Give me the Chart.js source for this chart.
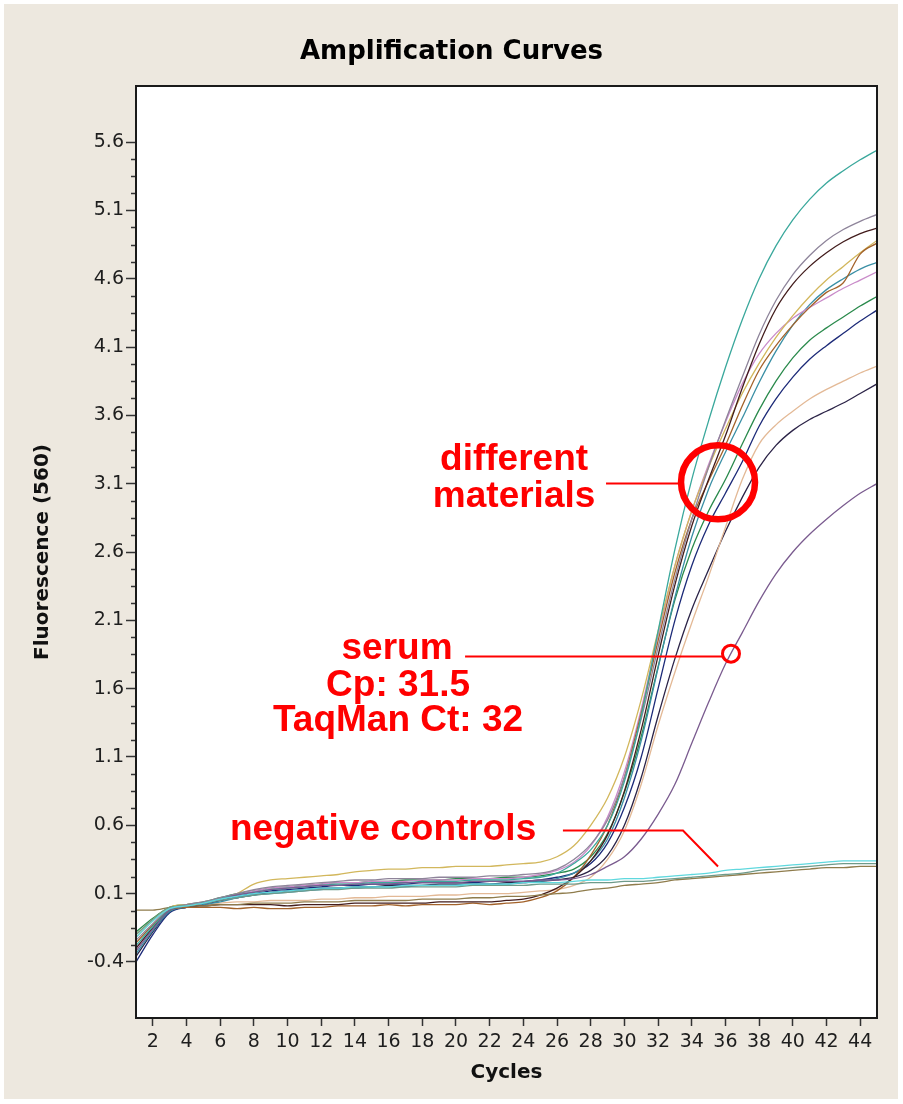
<!DOCTYPE html>
<html>
<head>
<meta charset="utf-8">
<title>Amplification Curves</title>
<style>
  html, body { margin: 0; padding: 0; background: #ffffff; }
  canvas { display: block; }
</style>
<script src="https://cdn.jsdelivr.net/npm/chart.js@4.4.1/dist/chart.umd.min.js"></script>
</head>
<body>
<canvas id="amp" width="903" height="1104"></canvas>
<script>
// Cycle numbers (x values) and axis tick labels
const cycles = [1,2,3,4,5,6,7,8,9,10,11,12,13,14,15,16,17,18,19,20,21,22,23,24,25,26,27,28,29,30,31,32,33,34,35,36,37,38,39,40,41,42,43,44,45];
const xTickCycles = [2,4,6,8,10,12,14,16,18,20,22,24,26,28,30,32,34,36,38,40,42,44];
const yMajorTicks = [-0.4,0.1,0.6,1.1,1.6,2.1,2.6,3.1,3.6,4.1,4.6,5.1,5.6];

// Fluorescence readings per cycle, one list per sample
const sampleTeal = [-0.28,-0.14,-0.02,0.01,0.03,0.06,0.09,0.11,0.13,0.14,0.15,0.16,0.17,0.17,0.18,0.18,0.18,0.19,0.19,0.19,0.2,0.2,0.2,0.21,0.22,0.25,0.32,0.42,0.6,0.92,1.4,2.02,2.62,3.13,3.56,3.95,4.3,4.6,4.84,5.03,5.18,5.3,5.39,5.47,5.54];
const sampleGrey = [-0.24,-0.12,-0.01,0.02,0.04,0.07,0.1,0.13,0.15,0.16,0.17,0.18,0.19,0.2,0.2,0.21,0.21,0.21,0.22,0.22,0.22,0.23,0.23,0.24,0.25,0.28,0.35,0.46,0.64,0.95,1.38,1.9,2.4,2.84,3.22,3.56,3.88,4.19,4.44,4.63,4.77,4.88,4.96,5.02,5.07];
const sampleDarkBrown = [-0.3,-0.15,-0.02,0.01,0.01,0.02,0.02,0.02,0.02,0.01,0.02,0.02,0.02,0.03,0.03,0.03,0.03,0.03,0.04,0.04,0.04,0.04,0.05,0.06,0.09,0.14,0.22,0.34,0.53,0.85,1.3,1.84,2.36,2.79,3.13,3.45,3.8,4.12,4.38,4.56,4.69,4.79,4.87,4.93,4.97];
const sampleBrown = [-0.26,-0.13,-0.02,0.0,0.0,0.0,-0.01,0.0,-0.01,-0.01,0.0,0.0,0.01,0.01,0.01,0.02,0.01,0.02,0.02,0.02,0.03,0.02,0.03,0.04,0.07,0.12,0.22,0.38,0.6,0.95,1.42,1.95,2.45,2.84,3.12,3.38,3.67,3.93,4.11,4.26,4.39,4.5,4.57,4.78,4.86];
const sampleYellow = [-0.2,-0.09,0.0,0.02,0.03,0.06,0.1,0.17,0.2,0.21,0.22,0.23,0.24,0.26,0.27,0.28,0.28,0.29,0.29,0.3,0.3,0.3,0.31,0.32,0.33,0.37,0.45,0.6,0.8,1.1,1.52,2.02,2.5,2.9,3.22,3.5,3.76,3.98,4.17,4.33,4.47,4.59,4.69,4.79,4.88];
const samplePink = [-0.3,-0.15,-0.02,0.01,0.03,0.06,0.09,0.12,0.14,0.15,0.16,0.17,0.18,0.18,0.19,0.19,0.19,0.2,0.2,0.2,0.21,0.21,0.21,0.22,0.24,0.27,0.33,0.45,0.66,0.99,1.45,1.99,2.5,2.9,3.24,3.55,3.83,4.05,4.2,4.31,4.39,4.46,4.53,4.59,4.65];
const sampleBlueTeal = [-0.34,-0.17,-0.03,0.0,0.02,0.04,0.07,0.09,0.1,0.11,0.12,0.13,0.14,0.14,0.15,0.15,0.15,0.16,0.16,0.16,0.17,0.17,0.17,0.18,0.19,0.21,0.25,0.34,0.5,0.8,1.22,1.75,2.27,2.71,3.06,3.33,3.58,3.84,4.07,4.26,4.41,4.52,4.6,4.67,4.72];
const sampleGreen = [-0.18,-0.08,0.0,0.02,0.04,0.07,0.1,0.12,0.14,0.15,0.16,0.17,0.18,0.18,0.19,0.19,0.2,0.2,0.2,0.21,0.21,0.21,0.22,0.22,0.23,0.25,0.28,0.37,0.54,0.84,1.25,1.76,2.25,2.62,2.9,3.13,3.39,3.64,3.85,4.02,4.15,4.24,4.32,4.4,4.47];
const sampleNavy = [-0.4,-0.2,-0.04,0.0,0.02,0.05,0.08,0.1,0.12,0.13,0.14,0.15,0.16,0.16,0.17,0.17,0.17,0.18,0.18,0.18,0.18,0.19,0.19,0.19,0.2,0.22,0.25,0.32,0.47,0.73,1.1,1.6,2.1,2.5,2.8,3.03,3.26,3.52,3.72,3.88,4.01,4.11,4.2,4.29,4.37];
const sampleTan = [-0.22,-0.1,-0.01,0.01,0.02,0.03,0.04,0.04,0.05,0.05,0.05,0.06,0.06,0.07,0.07,0.08,0.08,0.08,0.09,0.09,0.1,0.1,0.1,0.11,0.12,0.13,0.16,0.22,0.35,0.56,0.9,1.33,1.72,2.08,2.42,2.78,3.13,3.39,3.53,3.63,3.72,3.79,3.85,3.91,3.96];
const sampleDarkNavy = [-0.36,-0.18,-0.03,0.0,0.02,0.05,0.07,0.09,0.11,0.12,0.13,0.14,0.14,0.15,0.15,0.16,0.16,0.16,0.17,0.17,0.17,0.17,0.18,0.18,0.19,0.2,0.22,0.27,0.38,0.6,0.95,1.4,1.82,2.18,2.47,2.75,3.0,3.22,3.38,3.49,3.57,3.63,3.69,3.76,3.83];
const sampleSerum = [-0.32,-0.16,-0.02,0.01,0.03,0.06,0.09,0.11,0.13,0.14,0.15,0.16,0.16,0.17,0.17,0.17,0.18,0.18,0.18,0.18,0.19,0.19,0.19,0.19,0.2,0.2,0.21,0.24,0.3,0.37,0.5,0.68,0.9,1.2,1.5,1.78,2.01,2.24,2.44,2.6,2.73,2.84,2.94,3.03,3.1];
const negativeCyan = [-0.22,-0.1,-0.01,0.01,0.03,0.06,0.08,0.1,0.11,0.12,0.13,0.14,0.14,0.15,0.15,0.15,0.16,0.16,0.16,0.16,0.17,0.17,0.17,0.18,0.18,0.18,0.19,0.2,0.2,0.21,0.21,0.22,0.23,0.24,0.25,0.27,0.28,0.29,0.3,0.31,0.32,0.33,0.34,0.34,0.34];
const negativeGrey = [-0.2,-0.09,0.0,0.01,0.03,0.05,0.07,0.09,0.1,0.11,0.12,0.13,0.13,0.14,0.14,0.14,0.15,0.15,0.15,0.15,0.16,0.16,0.16,0.16,0.17,0.17,0.17,0.18,0.18,0.19,0.19,0.2,0.21,0.22,0.23,0.24,0.25,0.27,0.28,0.29,0.3,0.31,0.32,0.32,0.32];
const negativeOlive = [-0.02,-0.02,0.0,0.01,0.01,0.02,0.02,0.03,0.03,0.03,0.04,0.04,0.04,0.05,0.05,0.05,0.05,0.06,0.06,0.06,0.07,0.07,0.08,0.08,0.09,0.1,0.11,0.13,0.14,0.16,0.17,0.18,0.2,0.21,0.22,0.23,0.24,0.25,0.26,0.27,0.28,0.29,0.29,0.3,0.3];

// Minor y ticks: three evenly spaced marks between each pair of labelled values
const yAllTicks = [];
yMajorTicks.forEach((v, i) => {
  yAllTicks.push(v);
  if (i < yMajorTicks.length - 1) {
    const step = (yMajorTicks[i + 1] - v) / 4;
    for (let k = 1; k < 4; k++) yAllTicks.push(+(v + k * step).toFixed(4));
  }
});
const isMajor = v => yMajorTicks.some(m => Math.abs(m - v) < 1e-6);

const series = [
  { label: 'NTC 1', data: negativeCyan, color: '#5fd8de' },
  { label: 'NTC 2', data: negativeGrey, color: '#6e9a8a' },
  { label: 'NTC 3', data: negativeOlive, color: '#8f7c4c' },
  { label: 'Serum', data: sampleSerum, color: '#7a5b8f' },
  { label: 'Sample 1', data: sampleTeal, color: '#3aa89c' },
  { label: 'Sample 2', data: sampleGrey, color: '#8e849a' },
  { label: 'Sample 3', data: sampleDarkBrown, color: '#421c1c' },
  { label: 'Sample 4', data: sampleBrown, color: '#a3622a' },
  { label: 'Sample 5', data: sampleYellow, color: '#d2b75c' },
  { label: 'Sample 6', data: samplePink, color: '#c98bc9' },
  { label: 'Sample 7', data: sampleBlueTeal, color: '#3a8fa5' },
  { label: 'Sample 8', data: sampleGreen, color: '#2a8a4c' },
  { label: 'Sample 9', data: sampleNavy, color: '#1c2a78' },
  { label: 'Sample 10', data: sampleTan, color: '#e3b996' },
  { label: 'Sample 11', data: sampleDarkNavy, color: '#2b2347' }
];

// Red call-outs, placed in axis units (cycle, fluorescence)
const RED = '#ff0000';
const calloutTexts = [
  { text: 'different', at: [23.45, 3.20] },
  { text: 'materials', at: [23.45, 2.93] },
  { text: 'serum', at: [16.5, 1.82] },
  { text: 'Cp: 31.5', at: [16.56, 1.546] },
  { text: 'TaqMan Ct: 32', at: [16.56, 1.29] },
  { text: 'negative controls', at: [15.67, 0.493] }
];
const calloutLines = [
  [[28.91, 3.105], [33.2, 3.105]],
  [[20.54, 1.839], [35.8, 1.839]],
  [[26.35, 0.566], [33.48, 0.566], [35.56, 0.302]]
];
const calloutRings = [
  { at: [35.56, 3.11], r: 37, w: 6.5 },
  { at: [36.33, 1.856], r: 8.5, w: 3 }
];

const decorations = {
  id: 'decorations',
  beforeDraw(chart) {
    const { ctx, chartArea: a, width, height } = chart;
    ctx.save();
    ctx.fillStyle = '#ffffff';
    ctx.fillRect(0, 0, width, height);
    ctx.fillStyle = '#ede8df';
    ctx.fillRect(4, 4, width - 9, height - 9);
    ctx.fillStyle = '#ffffff';
    ctx.fillRect(a.left, a.top, a.width, a.height);
    ctx.restore();
  },
  afterDraw(chart) {
    const { ctx, chartArea: a } = chart;
    const xs = chart.scales.x, ys = chart.scales.y;
    const px = c => xs.getPixelForValue(c);
    const py = v => ys.getPixelForValue(v);
    ctx.save();
    // short minor ticks on the value axis
    ctx.strokeStyle = '#333';
    ctx.lineWidth = 1.5;
    yAllTicks.filter(v => !isMajor(v)).forEach(v => {
      const y = Math.round(py(v)) + 0.5;
      ctx.beginPath();
      ctx.moveTo(a.left - 5, y);
      ctx.lineTo(a.left, y);
      ctx.stroke();
    });
    // plot frame
    ctx.strokeStyle = '#1a1a1a';
    ctx.lineWidth = 2;
    ctx.strokeRect(a.left, a.top, a.width, a.height);

    // call-out leader lines
    ctx.strokeStyle = RED;
    ctx.lineWidth = 2;
    calloutLines.forEach(pts => {
      ctx.beginPath();
      pts.forEach((p, i) => {
        const X = px(p[0]), Y = Math.round(py(p[1])) + 0.5;
        if (i === 0) ctx.moveTo(X, Y); else ctx.lineTo(X, Y);
      });
      ctx.stroke();
    });
    calloutRings.forEach(r => {
      ctx.lineWidth = r.w;
      ctx.beginPath();
      ctx.arc(px(r.at[0]), py(r.at[1]), r.r, 0, Math.PI * 2);
      ctx.stroke();
    });
    ctx.fillStyle = RED;
    ctx.font = 'bold 37px "Liberation Sans", Arial, sans-serif';
    ctx.textAlign = 'center';
    ctx.textBaseline = 'alphabetic';
    calloutTexts.forEach(t => ctx.fillText(t.text, px(t.at[0]), py(t.at[1])));
    ctx.restore();
  }
};

new Chart(document.getElementById('amp'), {
  type: 'line',
  data: {
    labels: cycles,
    datasets: series.map(s => ({
      label: s.label,
      data: s.data,
      borderColor: s.color,
      backgroundColor: s.color,
      borderWidth: 1.3,
      pointRadius: 0,
      fill: false,
      cubicInterpolationMode: 'monotone'
    }))
  },
  options: {
    responsive: false,
    animation: false,
    devicePixelRatio: 1,
    events: [],
    layout: { padding: { left: 26, right: 26, top: 10, bottom: 10 } },
    plugins: {
      legend: { display: false },
      tooltip: { enabled: false },
      title: {
        display: true,
        text: 'Amplification Curves',
        color: '#000',
        font: { family: '"DejaVu Sans", sans-serif', size: 26, weight: 'bold' },
        padding: { top: 26.4, bottom: 18.4 }
      }
    },
    scales: {
      x: {
        type: 'linear',
        min: 1,
        max: 45,
        afterBuildTicks: s => { s.ticks = xTickCycles.map(v => ({ value: v })); },
        afterFit: s => { s.height = 76; },
        border: { display: false },
        grid: { display: true, drawOnChartArea: false, tickLength: 8, tickWidth: 1.5, tickColor: '#333' },
        ticks: {
          autoSkip: false, maxRotation: 0, padding: 5, color: '#1e1e1e',
          font: { family: '"DejaVu Sans", sans-serif', size: 19 },
          callback: v => String(v)
        },
        title: {
          display: true, text: 'Cycles', color: '#111',
          font: { family: '"DejaVu Sans", sans-serif', size: 20, weight: 'bold' },
          padding: { top: 0, bottom: 9 }
        }
      },
      y: {
        type: 'linear',
        min: -0.81,
        max: 6.01,
        afterBuildTicks: s => { s.ticks = yAllTicks.map(v => ({ value: v })); },
        afterFit: s => { s.width = 110; },
        border: { display: false },
        grid: {
          display: true, drawOnChartArea: false, tickLength: 10, tickWidth: 1.5,
          tickColor: c => (c.tick && isMajor(c.tick.value)) ? '#333' : 'rgba(0,0,0,0)'
        },
        ticks: {
          autoSkip: false, padding: 2, color: '#1e1e1e',
          font: { family: '"DejaVu Sans", sans-serif', size: 19 },
          callback: v => isMajor(v) ? v.toFixed(1) : ''
        },
        title: {
          display: true, text: 'Fluorescence (560)', color: '#111',
          font: { family: '"DejaVu Sans", sans-serif', size: 20, weight: 'bold' },
          padding: { top: 5, bottom: 0 }
        }
      }
    }
  },
  plugins: [decorations]
});
</script>
</body>
</html>
